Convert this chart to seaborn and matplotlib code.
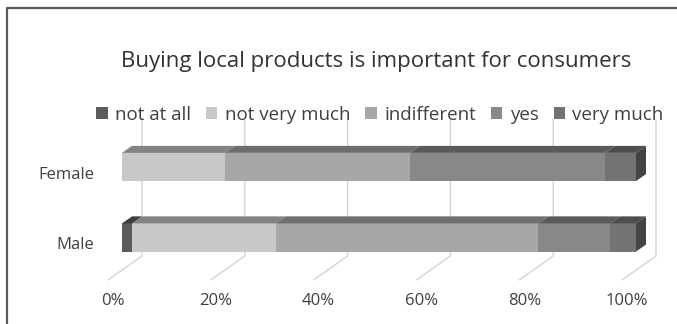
import numpy as np
import pandas as pd
import matplotlib
matplotlib.use("Agg")
import matplotlib.pyplot as plt
import seaborn as sns
from matplotlib.patches import Polygon, Patch
from matplotlib.lines import Line2D
from matplotlib.transforms import ScaledTranslation

# data (percent of respondents)
categories = ["Female", "Male"]
series = ["not at all", "not very much", "indifferent", "yes", "very much"]
not_at_all = [0, 2]
not_very_much = [20, 28]
indifferent = [36, 51]
yes = [38, 14]
very_much = [6, 5]
ticks = [0, 20, 40, 60, 80, 100]
tick_labels = ["0%", "20%", "40%", "60%", "80%", "100%"]

colors = ["#5b5b5b", "#c8c8c8", "#a7a7a7", "#888888", "#737373"]
top_colors = ["#3e3e3e", "#838383", "#6e6e6e", "#5a5a5a", "#4e4e4e"]
side_color = "#434343"
text_color = "#404040"

sns.set_style("white")
plt.rcParams["font.family"] = ["Open Sans", "DejaVu Sans"]

W, H = 677, 324
fig = plt.figure(figsize=(W / 100, H / 100), dpi=100)
# axes: 0% at x=122px, 100% at x=636px, top 118px, bottom 262px
ax = fig.add_axes([122 / W, 1 - 262 / H, (636 - 122) / W, 144 / H])

df = pd.DataFrame({"category": categories, "not at all": not_at_all,
                   "not very much": not_very_much, "indifferent": indifferent,
                   "yes": yes, "very much": very_much})
cum = df[series].cumsum(axis=1)

# stacked bars: draw cumulative totals from the last series back to the first
for s, c in reversed(list(zip(series, colors))):
    sns.barplot(x=cum[s], y=df["category"], color=c, orient="h", width=0.4,
                saturation=1, linewidth=0, ax=ax)

ax.set_xlim(0, 100)
ax.set_ylim(1.348, -0.695)
for sp in ax.spines.values():
    sp.set_visible(False)
ax.set_xlabel("")
ax.set_ylabel("")

to_disp = ax.transData.transform
to_data = ax.transData.inverted().transform
DX, DY = 10, 7  # depth offset in pixels

# back-wall gridlines with slanted floor lines
for t in ticks:
    bx, _ = to_disp((t, 0))
    top_y = H - 120
    pts = np.array([[bx + 20, top_y], [bx + 20, H - 256], [bx - 14, H - 280]])
    d = to_data(pts)
    ax.plot(d[:, 0], d[:, 1], color="#d4d4d4", lw=1, zorder=0, clip_on=False)

# 3D top faces and the right side face of each bar
for i, cat in enumerate(categories):
    lefts = [0] + list(cum.iloc[i, :-1])
    rights = list(cum.iloc[i])
    for j in range(len(series)):
        x0, x1 = lefts[j], rights[j]
        if x1 <= x0:
            continue
        (px0, ptop) = to_disp((x0, i - 0.2))
        (px1, _) = to_disp((x1, i - 0.2))
        pts = np.array([[px0, ptop], [px1, ptop], [px1 + DX, ptop + DY], [px0 + DX, ptop + DY]])
        ax.add_patch(Polygon(to_data(pts), closed=True, facecolor=top_colors[j],
                             edgecolor="none", clip_on=False, zorder=3))
    (pr, pbot) = to_disp((rights[-1], i + 0.2))
    (_, ptop) = to_disp((rights[-1], i - 0.2))
    pts = np.array([[pr, pbot], [pr, ptop], [pr + DX, ptop + DY], [pr + DX, pbot + DY]])
    ax.add_patch(Polygon(to_data(pts), closed=True, facecolor=side_color,
                         edgecolor="none", clip_on=False, zorder=3))

# ticks
ax.set_xticks(ticks)
ax.set_xticklabels(tick_labels)
ax.tick_params(axis="x", length=0, pad=22, labelsize=12, labelcolor=text_color)
ax.tick_params(axis="y", length=0, pad=20, labelsize=12, labelcolor=text_color)
for lab in ax.get_xticklabels():
    lab.set_transform(lab.get_transform() + ScaledTranslation(-9 / 100, 0, fig.dpi_scale_trans))
for lab in ax.get_yticklabels():
    lab.set_transform(lab.get_transform() + ScaledTranslation(0, -6 / 100, fig.dpi_scale_trans))

# title and legend
fig.text(376 / W, 1 - 62 / H, "Buying local products is important for consumers",
         ha="center", va="center", fontsize=16, color="#333333")
handles = [Patch(facecolor=c, edgecolor="none") for c in colors]
fig.legend(handles, series, loc="center", bbox_to_anchor=(380 / W, 1 - 115 / H), ncol=5,
           frameon=False, handlelength=0.6, handleheight=0.6, handletextpad=0.4,
           columnspacing=0.8, fontsize=13.5, labelcolor=text_color)

# outer frame (left and top edges only)
fig.add_artist(Line2D([7 / W, 7 / W, 1], [0, 1 - 8 / H, 1 - 8 / H],
                      transform=fig.transFigure, color="#5a5a5a", lw=1.6))

fig.savefig("out.png", dpi=100)
